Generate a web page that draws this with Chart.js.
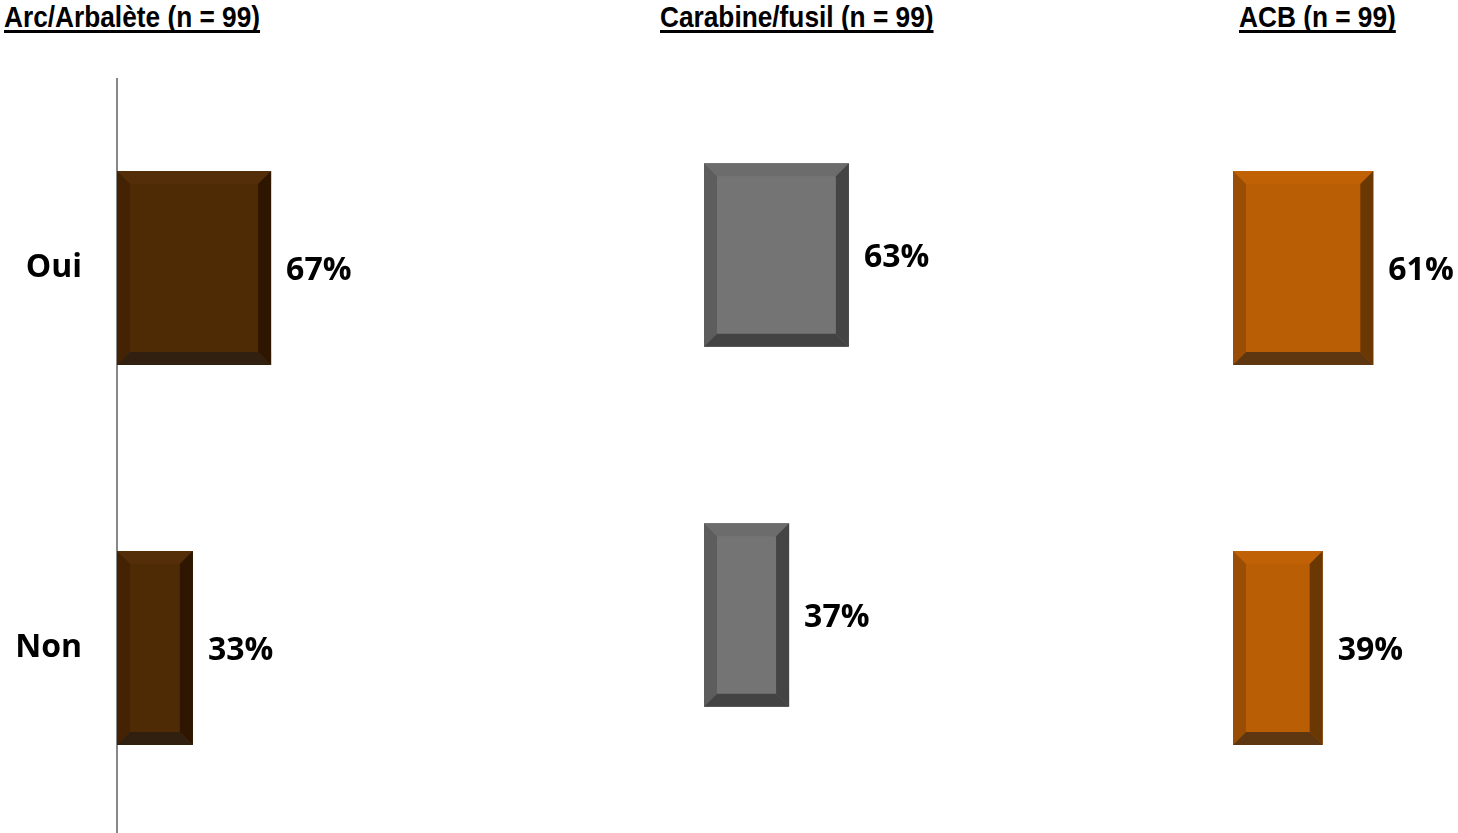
<!DOCTYPE html>
<html>
<head>
<meta charset="utf-8">
<script src="https://cdn.jsdelivr.net/npm/chart.js@4.4.0/dist/chart.umd.min.js"></script>
<style>
html, body { margin: 0; padding: 0; background: #fff; width: 1458px; height: 833px; overflow: hidden; position: relative; }
.title {
    position: absolute; top: 2px; white-space: nowrap; color: #000;
    font-family: 'Liberation Sans', Arial, sans-serif;
    font-weight: bold; font-size: 30px; line-height: 30px;
    text-decoration: underline; text-decoration-thickness: 3px; text-underline-offset: 3px;
    text-decoration-skip-ink: none;
    transform: scaleX(0.875); transform-origin: 0 0;
}
.panel { position: absolute; }
</style>
</head>
<body>
<div class="title" id="t0" style="left:4px"></div>
<div class="title" id="t1" style="left:660px"></div>
<div class="title" id="t2" style="left:1239px"></div>

<div class="panel" style="left:0px; top:78px; width:460px; height:760px"><canvas id="arc"></canvas></div>
<div class="panel" style="left:704px; top:75px; width:300px; height:720px"><canvas id="carabine"></canvas></div>
<div class="panel" style="left:1233px; top:78px; width:260px; height:760px"><canvas id="acb"></canvas></div>

<script>
const categories = ['Oui', 'Non'];
const arcValues = [67, 33];
const carabineValues = [63, 37];
const acbValues = [61, 39];
const panelTitles = ['Arc/Arbalète (n = 99)', 'Carabine/fusil (n = 99)', 'ACB (n = 99)'];

const labelFont = { family: "'Open Sans', sans-serif", size: 32, weight: 'bold' };

panelTitles.forEach((t, i) => { document.getElementById('t' + i).textContent = t; });

// bevelled bar edges, like the office "bevel" fill
const bevelPlugin = {
    id: 'bevel',
    afterDatasetsDraw(chart, args, opts) {
        const ctx = chart.ctx;
        const b = opts.size;
        const s = opts.shades;
        chart.getDatasetMeta(0).data.forEach(bar => {
            const p = bar.getProps(['x', 'y', 'base', 'height'], true);
            const l = Math.min(p.base, p.x), r = Math.max(p.base, p.x);
            const t = p.y - p.height / 2, bt = p.y + p.height / 2;
            const poly = (pts, c) => {
                ctx.beginPath();
                ctx.moveTo(pts[0][0], pts[0][1]);
                pts.slice(1).forEach(q => ctx.lineTo(q[0], q[1]));
                ctx.closePath();
                ctx.fillStyle = c;
                ctx.fill();
            };
            ctx.save();
            poly([[l, t], [r, t], [r - b, t + b], [l + b, t + b]], s.top);
            poly([[l, t], [l + b, t + b], [l + b, bt - b], [l, bt]], s.left);
            poly([[r, t], [r, bt], [r - b, bt - b], [r - b, t + b]], s.right);
            poly([[l, bt], [l + b, bt - b], [r - b, bt - b], [r, bt]], s.bottom);
            ctx.restore();
        });
    }
};

const valueLabels = {
    id: 'valueLabels',
    afterDraw(chart) {
        const ctx = chart.ctx;
        const ds = chart.data.datasets[0];
        ctx.save();
        ctx.font = `${labelFont.weight} ${labelFont.size}px ${labelFont.family}`;
        ctx.fillStyle = '#000';
        ctx.textAlign = 'left';
        ctx.textBaseline = 'middle';
        chart.getDatasetMeta(0).data.forEach((bar, i) => {
            ctx.fillText(ds.data[i] + '%', bar.x + 15, bar.y + 3);
        });
        ctx.restore();
    }
};

function makePanel(canvasId, values, colors, showAxis, padRight) {
    return new Chart(document.getElementById(canvasId), {
        type: 'bar',
        data: {
            labels: categories,
            datasets: [{
                data: values,
                backgroundColor: colors.main,
                borderWidth: 0,
                barPercentage: 0.51,
                categoryPercentage: 1
            }]
        },
        options: {
            indexAxis: 'y',
            responsive: true,
            maintainAspectRatio: false,
            animation: false,
            layout: { padding: { left: 0, right: padRight, top: 0, bottom: 0 } },
            plugins: {
                legend: { display: false },
                tooltip: { enabled: false },
                bevel: { size: 13, shades: colors }
            },
            scales: {
                x: { display: false, min: 0, max: 100 },
                y: {
                    display: showAxis,
                    afterFit: scale => {
                        scale.width = showAxis ? 117 : 0;
                        scale.paddingTop = 0;
                        scale.paddingBottom = 0;
                    },
                    grid: { display: true, drawOnChartArea: false, drawTicks: false },
                    border: { display: true, color: '#888888', width: 2 },
                    ticks: { color: '#000', font: labelFont, padding: 35 }
                }
            }
        },
        plugins: [bevelPlugin, valueLabels]
    });
}

makePanel('arc', arcValues, {
    main: '#4e2a05', top: '#532e08', left: '#432303', right: '#2e1601', bottom: '#31200f'
}, true, 113);
makePanel('carabine', carabineValues, {
    main: '#747474', top: '#6c6c6c', left: '#5d5d5d', right: '#444444', bottom: '#434343'
}, false, 70);
makePanel('acb', acbValues, {
    main: '#b95e04', top: '#bf6104', left: '#9a4e05', right: '#6b3703', bottom: '#5e3711'
}, false, 30);
</script>
</body>
</html>
